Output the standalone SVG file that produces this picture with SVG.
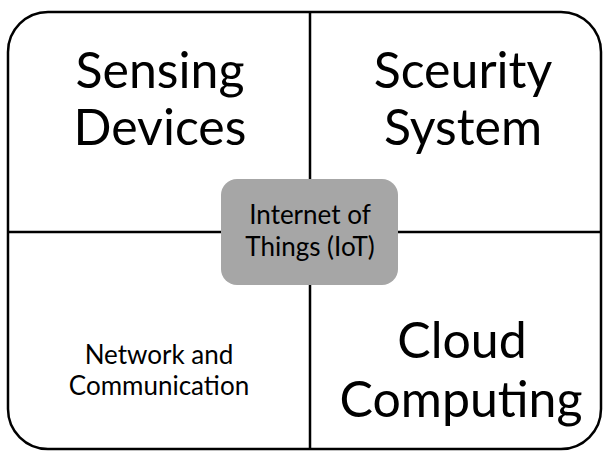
<svg xmlns="http://www.w3.org/2000/svg" width="608" height="451" viewBox="0 0 608 451">
<style>
.big{font-family:Lato,"Liberation Sans",sans-serif;font-size:50px;fill:#000;text-anchor:middle}
.sm{font-family:Lato,"Liberation Sans",sans-serif;font-size:26px;fill:#000;text-anchor:middle}
.ln{stroke:#000;stroke-width:2.5;fill:none}
</style>
<rect width="608" height="451" fill="#fff"/>
<g id="frame"><rect x="8" y="12" width="593" height="437" rx="40" ry="40" class="ln"/></g>
<g id="connectors">
<line x1="310" y1="12" x2="310" y2="449" class="ln"/>
<line x1="8" y1="232" x2="601" y2="232" class="ln"/>
</g>
<g id="sensing"><text class="big" x="160" y="88">Sensing</text><text class="big" x="160" y="145">Devices</text></g>
<g id="security"><text class="big" x="463" y="88">Sceurity</text><text class="big" x="463" y="145">System</text></g>
<g id="network"><text class="sm" x="159" y="364">Network and</text><text class="sm" x="159" y="395">Communication</text></g>
<g id="cloud"><text class="big" x="462" y="358">Cloud</text><text class="big" x="461" y="417">Computing</text></g>
<g id="iot"><rect x="221" y="179" width="177" height="106" rx="16" ry="16" fill="#a6a6a6"/><text class="sm" x="310" y="224">Internet of</text><text class="sm" x="310" y="256">Things (IoT)</text></g>
</svg>
